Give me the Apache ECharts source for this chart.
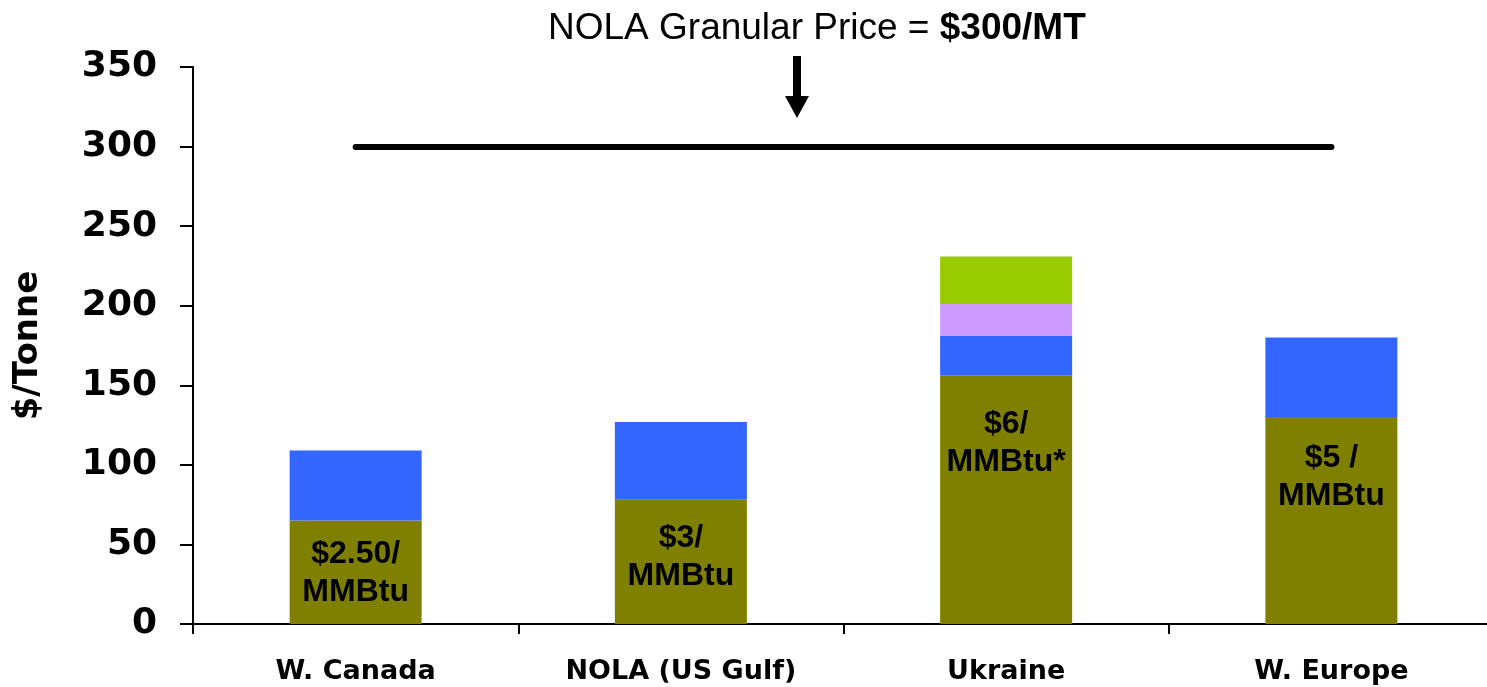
<!DOCTYPE html>
<html>
<head>
<meta charset="utf-8">
<title>Ammonia cost by region</title>
<script src="https://cdn.jsdelivr.net/npm/echarts@6/dist/echarts.min.js"></script>
<style>
  html, body { margin: 0; padding: 0; background: #fff; overflow: hidden; }
  /* a bit wider than the window: the x axis runs off the right edge */
  #chart { width: 1500px; height: 687px; }
</style>
</head>
<body>
<div id="chart"></div>
<script>
// --- data ---
var regions = ['W. Canada', 'NOLA (US Gulf)', 'Ukraine', 'W. Europe'];
var gasCost = [65, 78, 156, 130];          // olive
var otherCost = [44, 49, 25, 50];          // blue
var extraCostA = [null, null, 20, null];   // purple
var extraCostB = [null, null, 30, null];   // green
var gasLabels = ['$2.50/\nMMBtu', '$3/\nMMBtu', '$6/\nMMBtu*', '$5 /\nMMBtu'];
var granularPrice = 300;
var yTicks = { min: 0, max: 350, interval: 50 };

var chart = echarts.init(document.getElementById('chart'));

// label sits a bit below the top of the olive block
var labelDist = [15, 19, 29, 22];

var option = {
    animation: false,
    title: {
        text: '{n|NOLA Granular Price = }{b|$300/MT}',
        left: 543,
        top: 5,
        textStyle: {
            fontWeight: 'normal',
            rich: {
                n: { fontFamily: 'Liberation Sans', fontSize: 37, fontWeight: 'normal', color: '#000' },
                b: { fontFamily: 'Liberation Sans', fontSize: 37, fontWeight: 'bold', color: '#000' }
            }
        }
    },
    grid: { left: 193, top: 67, width: 1301, height: 557 },
    xAxis: {
        type: 'category',
        data: regions,
        axisLine: { lineStyle: { color: '#000', width: 2 } },
        axisTick: { show: true, length: 10, lineStyle: { color: '#000', width: 2 } },
        axisLabel: {
            margin: 34,
            color: '#000',
            fontFamily: 'DejaVu Sans',
            fontWeight: 'bold',
            fontSize: 27
        }
    },
    yAxis: {
        type: 'value',
        min: yTicks.min,
        max: yTicks.max,
        interval: yTicks.interval,
        name: '$/Tonne',
        nameLocation: 'middle',
        nameGap: 148,
        nameRotate: 90,
        nameTextStyle: {
            color: '#000',
            fontFamily: 'DejaVu Sans',
            fontWeight: 'bold',
            fontSize: 34
        },
        axisLine: { show: true, lineStyle: { color: '#000', width: 2 } },
        axisTick: { show: true, length: 13, lineStyle: { color: '#000', width: 2 } },
        splitLine: { show: false },
        axisLabel: {
            margin: 36,
            color: '#000',
            fontFamily: 'DejaVu Sans',
            fontWeight: 'bold',
            fontSize: 36
        }
    },
    series: [
        {
            name: 'Gas',
            type: 'bar',
            stack: 'cost',
            barWidth: 132,
            itemStyle: { color: '#808000' },
            data: gasCost.map(function (v, i) {
                return {
                    value: v,
                    label: {
                        show: true,
                        formatter: gasLabels[i],
                        position: 'insideTop',
                        distance: labelDist[i],
                        color: '#000',
                        fontFamily: 'Liberation Sans',
                        fontWeight: 'bold',
                        fontSize: 32,
                        lineHeight: 38
                    }
                };
            }),
            markLine: {
                silent: true,
                symbol: ['none', 'none'],
                label: { show: false },
                lineStyle: { color: '#000', width: 6, type: 'solid', cap: 'round' },
                data: [[
                    { coord: [0, granularPrice] },
                    { coord: [regions.length - 1, granularPrice] }
                ]]
            }
        },
        { name: 'Other', type: 'bar', stack: 'cost', barWidth: 132, itemStyle: { color: '#3366FF' }, data: otherCost },
        { name: 'Extra A', type: 'bar', stack: 'cost', barWidth: 132, itemStyle: { color: '#CC99FF' }, data: extraCostA },
        { name: 'Extra B', type: 'bar', stack: 'cost', barWidth: 132, itemStyle: { color: '#99CC00' }, data: extraCostB }
    ],
    graphic: [
        {
            // arrow pointing down at the price line
            type: 'polygon',
            shape: {
                points: [[793, 56], [801, 56], [801, 96], [809, 96], [797, 118], [785, 96], [793, 96]]
            },
            style: { fill: '#000' }
        }
    ]
};

chart.setOption(option);
</script>
</body>
</html>
